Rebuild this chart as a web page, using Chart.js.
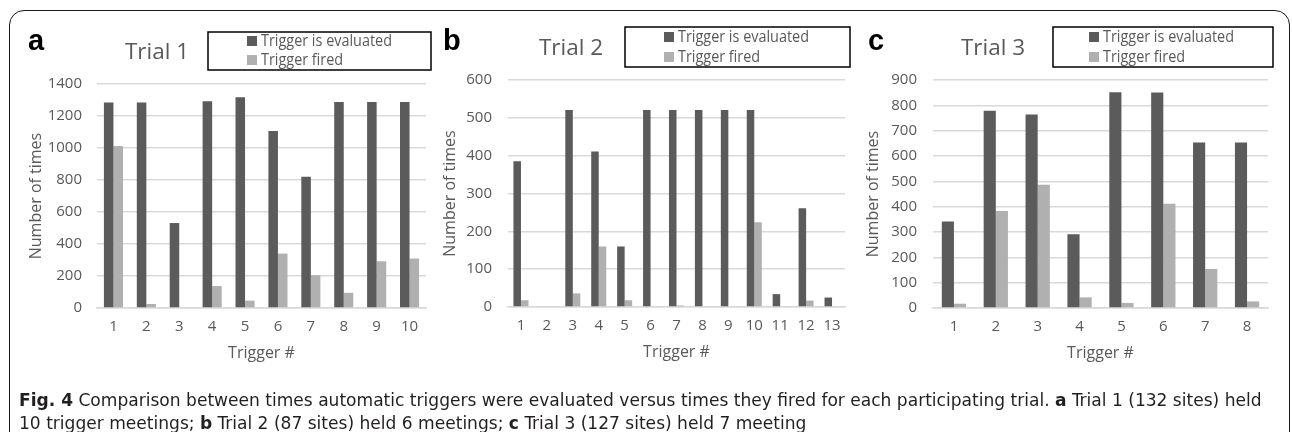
<!DOCTYPE html>
<html lang="en">
<head>
<meta charset="UTF-8">
<title>Trigger evaluation per trial</title>
<script src="https://cdn.jsdelivr.net/npm/chart.js@4.4.0/dist/chart.umd.min.js"></script>
<style>
    body { margin: 0; background: #fff; }
    #page { position: relative; width: 1292px; height: 432px; overflow: hidden; background: #fff; }
    #frame { position: absolute; left: 9px; top: 10px; width: 1279px; height: 440px;
             border: 1.6px solid #1a1a1a; border-radius: 15px; }
    canvas { position: absolute; left: 0; top: 0; }
    #caption { position: absolute; left: 19px; top: 389px; color: #231f20;
               font-family: "Liberation Sans Narrow", "DejaVu Sans Condensed", sans-serif;
               font-size: 17px; line-height: 23px; white-space: nowrap; transform-origin: 0 0; }
</style>
</head>
<body>
<div id="page">
    <div id="frame"></div>
    <canvas id="trial1" width="1292" height="390"></canvas>
    <canvas id="trial2" width="1292" height="390"></canvas>
    <canvas id="trial3" width="1292" height="390"></canvas>
    <div id="caption">
        <div id="capLine1"><b>Fig. 4</b> Comparison between times automatic triggers were evaluated versus times they fired for each participating trial. <b>a</b> Trial 1 (132 sites) held</div>
        <div>10 trigger meetings; <b>b</b> Trial 2 (87 sites) held 6 meetings; <b>c</b> Trial 3 (127 sites) held 7 meeting</div>
    </div>
</div>
<script>
// data
const seriesNames = ['Trigger is evaluated', 'Trigger fired'];

const trial1Labels = ['1', '2', '3', '4', '5', '6', '7', '8', '9', '10'];
const trial1Evaluated = [1285, 1285, 531, 1292, 1317, 1106, 820, 1287, 1287, 1287];
const trial1Fired = [1012, 25, 0, 137, 46, 340, 205, 95, 292, 309];

const trial2Labels = ['1', '2', '3', '4', '5', '6', '7', '8', '9', '10', '11', '12', '13'];
const trial2Evaluated = [385, 0, 521, 411, 160, 521, 521, 521, 521, 521, 34, 261, 25];
const trial2Fired = [18, 0, 36, 160, 18, 0, 4, 0, 0, 224, 0, 17, 0];

const trial3Labels = ['1', '2', '3', '4', '5', '6', '7', '8'];
const trial3Evaluated = [341, 779, 764, 291, 852, 851, 653, 653];
const trial3Fired = [17, 383, 487, 42, 20, 412, 154, 26];

const DARK = '#5b5b5b';
const LIGHT = '#b0b0b0';
const GRID = '#d9d9d9';
const TXT = '#595959';
const FONT = '"Open Sans", sans-serif';
const W = 1292, H = 390, XAXIS_H = 60;
const LEGEND_TEXT_W = 131;   // width of the longer legend entry in the figure

Chart.defaults.font.family = FONT;

// panel letter, trial title and the boxed legend
const panelDecor = {
    id: 'panelDecor',
    afterDraw(chart, args, opts) {
        const ctx = chart.ctx;
        ctx.save();
        ctx.fillStyle = '#000';
        ctx.font = 'bold 29px "Liberation Sans", Arial, sans-serif';
        ctx.textAlign = 'left';
        ctx.textBaseline = 'alphabetic';
        ctx.fillText(opts.letter, opts.letterX, 50);

        ctx.fillStyle = TXT;
        ctx.font = '22.5px ' + FONT;
        ctx.textAlign = 'center';
        ctx.fillText(opts.title, opts.titleX, opts.titleY);

        const b = opts.box;
        ctx.strokeStyle = '#000';
        ctx.lineWidth = 1.5;
        ctx.strokeRect(b[0], b[1], b[2] - b[0], b[3] - b[1]);

        ctx.font = '16.5px ' + FONT;
        ctx.textAlign = 'left';
        ctx.textBaseline = 'middle';
        const widest = Math.max(...chart.data.datasets.map(ds => ctx.measureText(ds.label).width));
        const sx = Math.min(1, LEGEND_TEXT_W / widest);
        chart.data.datasets.forEach((ds, i) => {
            const y = opts.rows[i];
            ctx.fillStyle = ds.backgroundColor;
            ctx.fillRect(opts.markX, y - 5, 10, 10);
            ctx.fillStyle = TXT;
            ctx.save();
            ctx.translate(opts.markX + 14, y);
            ctx.scale(sx, 1);
            ctx.fillText(ds.label, 0, 0);
            ctx.restore();
        });
        ctx.restore();
    }
};

function makePanel(id, labels, evaluated, fired, yMax, yStep, geo, decor) {
    return new Chart(document.getElementById(id), {
        type: 'bar',
        data: {
            labels: labels,
            datasets: [
                { label: seriesNames[0], data: evaluated, backgroundColor: DARK },
                { label: seriesNames[1], data: fired, backgroundColor: LIGHT }
            ]
        },
        options: {
            responsive: false,
            animation: false,
            layout: {
                padding: {
                    left: geo.plotLeft - geo.axisW,
                    right: W - geo.plotRight,
                    top: geo.plotTop,
                    bottom: H - geo.plotBottom - XAXIS_H
                }
            },
            datasets: { bar: { categoryPercentage: 0.58, barPercentage: 1 } },
            plugins: {
                legend: { display: false },
                tooltip: { enabled: false },
                panelDecor: decor
            },
            scales: {
                x: {
                    grid: { display: false, drawTicks: false },
                    border: { color: GRID, width: 1.5 },
                    ticks: { color: TXT, font: { size: 15 }, padding: 10, autoSkip: false, maxRotation: 0 },
                    title: { display: true, text: 'Trigger #', color: TXT, font: { size: 16 }, padding: 5 },
                    afterFit: s => { s.height = XAXIS_H; }
                },
                y: {
                    min: 0,
                    max: yMax,
                    grid: { color: GRID, lineWidth: 1.5, drawTicks: false },
                    border: { display: false },
                    ticks: { stepSize: yStep, color: TXT, font: { size: 15 }, padding: geo.tickPad,
                             format: { useGrouping: false } },
                    title: { display: true, text: 'Number of times', color: TXT, font: { size: 16 }, padding: 4 },
                    afterFit: s => { s.width = geo.axisW; }
                }
            }
        },
        plugins: [panelDecor]
    });
}

makePanel('trial1', trial1Labels, trial1Evaluated, trial1Fired, 1400, 200,
    { plotLeft: 97, plotRight: 426, plotTop: 84, plotBottom: 308, axisW: 74, tickPad: 15 },
    { letter: 'a', letterX: 28, title: 'Trial 1', titleX: 157, titleY: 59, box: [208, 32, 431, 70], rows: [41, 60], markX: 247 });

makePanel('trial2', trial2Labels, trial2Evaluated, trial2Fired, 600, 100,
    { plotLeft: 508, plotRight: 845, plotTop: 80, plotBottom: 307, axisW: 71, tickPad: 16 },
    { letter: 'b', letterX: 443, title: 'Trial 2', titleX: 571, titleY: 55, box: [625, 27, 850, 67], rows: [37, 57], markX: 664 });

makePanel('trial3', trial3Labels, trial3Evaluated, trial3Fired, 900, 100,
    { plotLeft: 933, plotRight: 1268, plotTop: 80, plotBottom: 308, axisW: 73, tickPad: 16 },
    { letter: 'c', letterX: 868, title: 'Trial 3', titleX: 993, titleY: 55, box: [1053, 27, 1273, 67], rows: [37, 57], markX: 1089 });

// squeeze the caption so the first line ends where it does in the figure
const cap = document.getElementById('caption');
const line1 = document.getElementById('capLine1');
const k = (1262 - 19) / line1.scrollWidth;
cap.style.transform = 'scaleX(' + k + ')';
</script>
</body>
</html>
